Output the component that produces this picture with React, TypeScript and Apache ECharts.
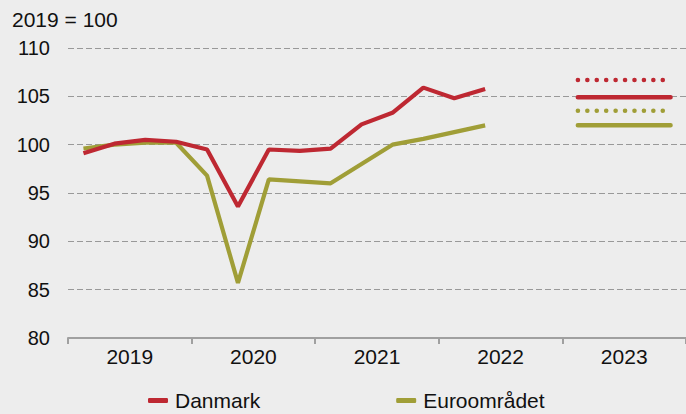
import React, { useEffect, useRef } from "react";
import * as echarts from "echarts";

const quarters = [
  "2019K1", "2019K2", "2019K3", "2019K4",
  "2020K1", "2020K2", "2020K3", "2020K4",
  "2021K1", "2021K2", "2021K3", "2021K4",
  "2022K1", "2022K2", "2022K3", "2022K4",
  "2023K1", "2023K2", "2023K3", "2023K4",
];
const years = ["2019", "2020", "2021", "2022", "2023"];

const danmark = [99.1, 100.1, 100.5, 100.3, 99.5, 93.6, 99.5, 99.35, 99.6, 102.1, 103.3, 105.9, 104.8, 105.75];
const euro = [99.6, 100.0, 100.2, 100.2, 96.8, 85.7, 96.4, 96.2, 96.0, 98.0, 100.0, 100.6, 101.3, 102.0];

const danmark2023Solid = [104.9, 104.9, 104.9, 104.9];
const danmark2023Dotted = [106.7, 106.7, 106.7, 106.7];
const euro2023Solid = [102.0, 102.0, 102.0, 102.0];
const euro2023Dotted = [103.5, 103.5, 103.5, 103.5];

const yTicks = { min: 80, max: 110, interval: 5 };

const RED = "#BE2832";
const OLIVE = "#A09E37";
const FONT = "'Liberation Sans', Arial, sans-serif";

function pad(vals: number[], start: number): (number | null)[] {
  const out: (number | null)[] = quarters.map(() => null);
  vals.forEach((v, i) => (out[start + i] = v));
  return out;
}

export default function App() {
  const ref = useRef<HTMLDivElement>(null);
  useEffect(() => {
    if (!ref.current) return;
    const chart = echarts.init(ref.current, null, { renderer: "svg" });
    const dotStyle = (color: string) => ({
      color,
      width: 4.5,
      type: [0.1, 9.33],
      cap: "round",
    });
    chart.setOption({
      animation: false,
      backgroundColor: "#EDEDED",
      textStyle: { fontFamily: FONT },
      title: {
        text: "2019 = 100",
        left: 12,
        top: 9,
        padding: 0,
        textStyle: { fontSize: 21, fontWeight: "normal", color: "#111", fontFamily: FONT },
      },
      grid: { left: 68, right: -4, top: 48, bottom: 76, containLabel: false },
      legend: {
        data: [
          { name: "Danmark", icon: "roundRect" },
          { name: "Euroområdet", icon: "roundRect" },
        ],
        left: 148,
        top: 390,
        padding: 0,
        itemWidth: 20,
        itemHeight: 5,
        itemGap: 136,
        textStyle: { fontSize: 21, color: "#111", fontFamily: FONT, padding: [0, 0, 0, 2] },
      },
      xAxis: [
        {
          type: "category",
          data: quarters,
          boundaryGap: true,
          show: false,
          position: "bottom",
        },
        {
          type: "category",
          data: years,
          boundaryGap: true,
          position: "bottom",
          axisLine: { lineStyle: { color: "#A0A0A0", width: 2 } },
          axisTick: { show: true, interval: 0, length: 6, lineStyle: { color: "#A0A0A0", width: 2 } },
          axisLabel: { fontSize: 21, color: "#111", margin: 8, fontFamily: FONT },
          splitLine: { show: false },
        },
      ],
      yAxis: {
        type: "value",
        min: yTicks.min,
        max: yTicks.max,
        interval: yTicks.interval,
        axisLine: { show: false },
        axisTick: { show: false },
        axisLabel: { fontSize: 20, color: "#111", margin: 18, fontFamily: FONT },
        splitLine: { show: true, lineStyle: { color: "#999999", width: 1.2, type: [6, 3] } },
      },
      series: [
        {
          name: "Danmark",
          type: "line",
          xAxisIndex: 0,
          data: pad(danmark, 0),
          symbol: "none",
          lineStyle: { color: RED, width: 4.2 },
          itemStyle: { color: RED },
          z: 4,
        },
        {
          name: "Euroområdet",
          type: "line",
          xAxisIndex: 0,
          data: pad(euro, 0),
          symbol: "none",
          lineStyle: { color: OLIVE, width: 4.2 },
          itemStyle: { color: OLIVE },
          z: 3,
        },
        {
          name: "Danmark 2023",
          type: "line",
          xAxisIndex: 0,
          data: pad(danmark2023Solid, 16),
          symbol: "none",
          lineStyle: { color: RED, width: 4.5, cap: "round" },
        },
        {
          name: "Danmark 2023 alt",
          type: "line",
          xAxisIndex: 0,
          data: pad(danmark2023Dotted, 16),
          symbol: "none",
          lineStyle: dotStyle(RED),
        },
        {
          name: "Euroområdet 2023",
          type: "line",
          xAxisIndex: 0,
          data: pad(euro2023Solid, 16),
          symbol: "none",
          lineStyle: { color: OLIVE, width: 4.5, cap: "round" },
        },
        {
          name: "Euroområdet 2023 alt",
          type: "line",
          xAxisIndex: 0,
          data: pad(euro2023Dotted, 16),
          symbol: "none",
          lineStyle: dotStyle(OLIVE),
        },
      ],
    });
    return () => chart.dispose();
  }, []);
  return (
    <div
      ref={ref}
      style={{ position: "fixed", left: 0, top: 0, width: 686, height: 414 }}
    />
  );
}
